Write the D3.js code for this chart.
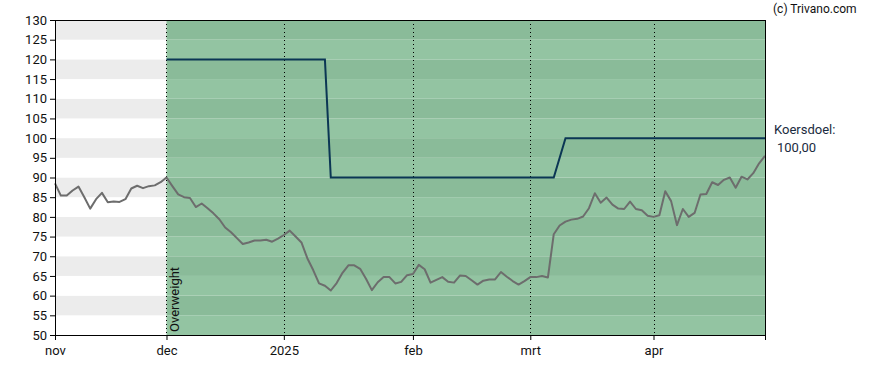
<!DOCTYPE html>
<html>

<head>
	<meta charset="utf-8">
	<title>Koersdoel</title>
	<script src="https://d3js.org/d3.v7.min.js"></script>
	<style>
		body { margin: 0; background: #fff; }
		text { font-family: Roboto, "Noto Sans", sans-serif; }
	</style>
</head>

<body>
	<script>
		// Daily closing prices, one per trading day (index 0 = first day of nov)
		const prices = [
			88.5, 85.4, 85.4, 86.7, 87.7, 85.0, 82.1, 84.5, 86.1, 83.7,
			83.9, 83.8, 84.5, 87.2, 87.9, 87.3, 87.8, 88.0, 88.8, 90.0,
			87.8, 85.7, 85.0, 84.8, 82.5, 83.4, 82.2, 80.9, 79.4, 77.3,
			76.1, 74.6, 73.1, 73.5, 74.0, 74.0, 74.2, 73.7, 74.5, 75.4,
			76.5, 75.0, 73.5, 69.5, 66.5, 63.1, 62.5, 61.3, 63.2, 65.8,
			67.7, 67.7, 66.8, 64.3, 61.4, 63.4, 64.7, 64.7, 63.1, 63.5,
			65.2, 65.5, 67.8, 66.7, 63.3, 64.0, 64.7, 63.5, 63.3, 65.1,
			65.0, 63.9, 62.8, 63.8, 64.1, 64.1, 66.0, 64.8, 63.7, 62.8,
			63.7, 64.7, 64.7, 65.0, 64.6, 75.6, 77.8, 78.8, 79.3, 79.5,
			80.1, 82.2, 86.0, 83.6, 84.9, 83.1, 82.1, 82.0, 83.9, 82.0,
			81.7, 80.3, 80.0, 80.4, 86.5, 84.0, 77.9, 82.0, 80.0, 81.0,
			85.7, 85.8, 88.8, 88.1, 89.4, 90.0, 87.4, 90.2, 89.5, 91.1,
			93.6, 95.5
		];

		// Analyst price target: day index and value
		const targetDays = [19, 46, 47, 85, 87, 121];
		const targetValues = [120, 120, 90, 90, 100, 100];

		// Month ticks (day index of first trading day)
		const monthDays = [0, 19, 39, 61, 81, 102];
		const monthLabels = ['nov', 'dec', '2025', 'feb', 'mrt', 'apr'];

		const ratingStart = 19;
		const ratingLabel = 'Overweight';
		const lastTarget = '100,00';

		const W = 888, H = 370;
		const margin = { top: 20, right: 123, bottom: 35, left: 55 };
		const width = W - margin.left - margin.right;
		const height = H - margin.top - margin.bottom;

		const svg = d3.select('body')
			.append('svg')
			.attr('width', W)
			.attr('height', H);

		const g = svg.append('g')
			.attr('transform', `translate(${margin.left}, ${margin.top})`);

		const x = d3.scaleLinear()
			.domain([0, prices.length - 1])
			.range([0, width]);

		const y = d3.scaleLinear()
			.domain([50, 130])
			.range([height, 0]);

		// Horizontal bands every 5 units
		const bands = d3.range(50, 130, 5);
		g.selectAll('.band')
			.data(bands)
			.enter()
			.append('rect')
			.attr('x', 0)
			.attr('width', x(ratingStart))
			.attr('y', d => y(d + 5))
			.attr('height', d => y(d) - y(d + 5))
			.attr('fill', d => (d / 5) % 2 === 1 ? '#ececec' : '#ffffff');

		g.selectAll('.gband')
			.data(bands)
			.enter()
			.append('rect')
			.attr('x', x(ratingStart))
			.attr('width', width - x(ratingStart))
			.attr('y', d => y(d + 5))
			.attr('height', d => y(d) - y(d + 5))
			.attr('fill', d => (d / 5) % 2 === 1 ? '#8abb99' : '#93c4a2');

		// Dotted month gridlines
		g.selectAll('.grid')
			.data(monthDays.slice(1))
			.enter()
			.append('line')
			.attr('x1', d => Math.round(x(d)) + 0.5)
			.attr('x2', d => Math.round(x(d)) + 0.5)
			.attr('y1', 0)
			.attr('y2', height)
			.attr('stroke', '#000')
			.attr('stroke-width', 1)
			.attr('stroke-dasharray', '1,3');

		// Rating label
		g.append('text')
			.attr('transform', `translate(${x(ratingStart) + 13}, ${height - 3}) rotate(-90)`)
			.attr('font-size', 13)
			.attr('fill', '#111')
			.text(ratingLabel);

		// Price target line
		const target = targetDays.map((d, i) => [d, targetValues[i]]);
		g.append('path')
			.datum(target)
			.attr('fill', 'none')
			.attr('stroke', '#0b3654')
			.attr('stroke-width', 2)
			.attr('d', d3.line().x(d => x(d[0])).y(d => y(d[1])));

		// Price line
		g.append('path')
			.datum(prices)
			.attr('fill', 'none')
			.attr('stroke', '#6d6d6d')
			.attr('stroke-width', 2)
			.attr('stroke-linejoin', 'round')
			.attr('d', d3.line().x((d, i) => x(i)).y(d => y(d)));

		// Frame
		g.append('rect')
			.attr('x', 0.5)
			.attr('y', 0.5)
			.attr('width', width)
			.attr('height', height)
			.attr('fill', 'none')
			.attr('stroke', '#000');

		// Axes
		const yAxis = g.append('g')
			.call(d3.axisLeft(y).tickValues(d3.range(50, 131, 5)).tickSize(5).tickPadding(3));

		const xAxis = g.append('g')
			.attr('transform', `translate(0, ${height})`)
			.call(d3.axisBottom(x).tickValues(monthDays).tickSize(5).tickPadding(6)
				.tickFormat((d, i) => monthLabels[i]));

		[yAxis, xAxis].forEach(a => {
			a.selectAll('text').attr('font-size', 13).attr('fill', '#111')
				.style('font-family', 'Roboto, sans-serif');
			a.selectAll('line').attr('stroke', '#000');
			a.select('.domain').attr('stroke', '#000');
		});

		// Right-side texts
		svg.append('text')
			.attr('x', 773)
			.attr('y', 13)
			.attr('font-size', 12)
			.attr('fill', '#111')
			.text('(c) Trivano.com');

		svg.append('text')
			.attr('x', 774)
			.attr('y', 134)
			.attr('font-size', 13)
			.attr('fill', '#1a2b40')
			.text('Koersdoel:');

		svg.append('text')
			.attr('x', 777)
			.attr('y', 152)
			.attr('font-size', 13)
			.attr('fill', '#1a2b40')
			.text(lastTarget);
	</script>
</body>

</html>
